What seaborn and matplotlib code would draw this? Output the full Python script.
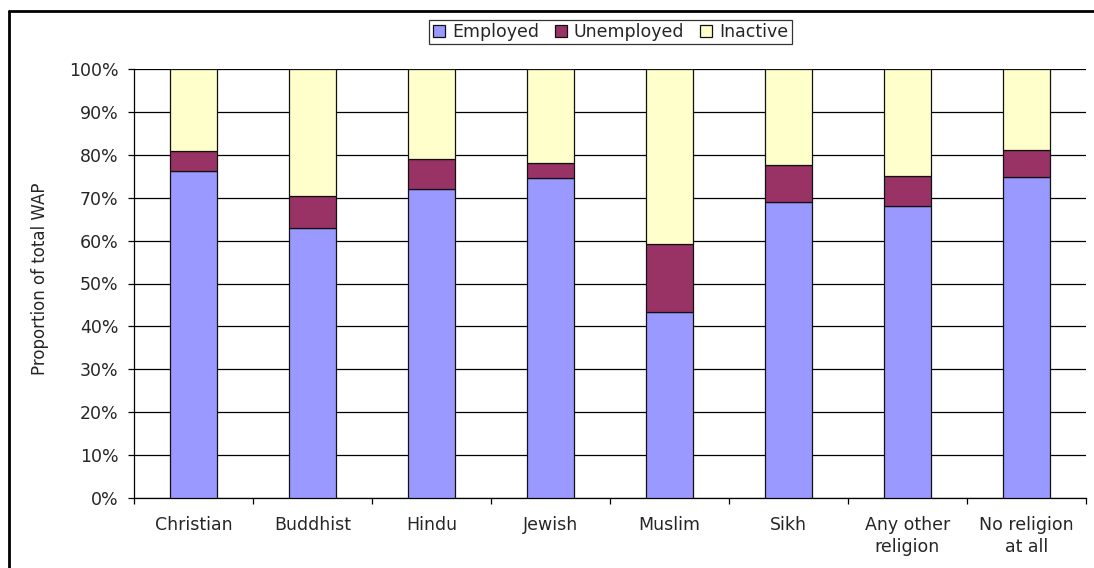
import numpy as np
import pandas as pd
import matplotlib
matplotlib.use("Agg")
import matplotlib.pyplot as plt
from matplotlib.lines import Line2D
from matplotlib.patches import Patch
from matplotlib.ticker import PercentFormatter, FixedLocator
import seaborn as sns

# Working-age population by religion: share in each economic status (%)
religions = ["Christian", "Buddhist", "Hindu", "Jewish", "Muslim", "Sikh",
             "Any other\nreligion", "No religion\nat all"]
employed = [76.3, 62.9, 72.0, 74.5, 43.3, 69.1, 68.1, 74.8]
unemployed = [4.5, 7.6, 7.1, 3.7, 15.8, 8.6, 7.0, 6.4]
inactive = [19.2, 29.5, 20.9, 21.8, 40.9, 22.3, 24.9, 18.8]

series_names = ["Employed", "Unemployed", "Inactive"]
series_colors = ["#9999FF", "#993366", "#FFFFCC"]

df = pd.DataFrame({"religion": religions, "Employed": employed,
                   "Unemployed": unemployed, "Inactive": inactive})

sns.set_style("white")
plt.rcParams["font.family"] = ["DejaVu Sans"]

W, H = 1094, 568
fig = plt.figure(figsize=(W / 100, H / 100), dpi=100)
ax = fig.add_axes([134 / W, 1 - 498 / H, (1086 - 134) / W, (498 - 69) / H])

ax.yaxis.grid(True, color="black", linewidth=0.9)
ax.set_axisbelow(True)

# Stacked bars: each series sits on the running total of the previous ones
base = np.zeros(len(religions))
for name, color in zip(series_names, series_colors):
    sns.barplot(data=df, x="religion", y=name, bottom=base, color=color,
                width=0.4, edgecolor="#111111", linewidth=0.9, saturation=1,
                ax=ax, zorder=3)
    base = base + df[name].to_numpy()

ax.set_ylim(0, 100)
ax.set_xlim(-0.5, len(religions) - 0.5)
ax.set_yticks(np.arange(0, 101, 10))
ax.yaxis.set_major_formatter(PercentFormatter(decimals=0))
ax.set_xlabel("")
ax.set_ylabel("Proportion of total WAP", fontsize=12)
ax.yaxis.set_label_coords(-0.089, 0.51)

for side in ["top", "right"]:
    ax.spines[side].set_visible(False)
for side in ["left", "bottom"]:
    ax.spines[side].set_color("black")
    ax.spines[side].set_linewidth(0.9)

ax.tick_params(axis="y", which="major", direction="out", length=4.3, width=0.9,
               color="black", labelsize=12.5, left=True, pad=7)
ax.tick_params(axis="x", which="major", length=0, labelsize=12.5, pad=13)
ax.xaxis.set_minor_locator(FixedLocator(np.arange(-0.5, len(religions), 1.0)))
ax.tick_params(axis="x", which="minor", direction="out", length=4.3, width=0.9,
               color="black", bottom=True)
for lbl in ax.get_xticklabels():
    lbl.set_linespacing(1.3)

handles = [Patch(facecolor=c, edgecolor="#111111", linewidth=0.9) for c in series_colors]
leg = fig.legend(handles, series_names, loc="center", ncol=3,
                 bbox_to_anchor=(610.5 / W, 1 - 32 / H), fontsize=12.5,
                 frameon=True, fancybox=False, handlelength=0.7, handleheight=0.7,
                 handletextpad=0.4, columnspacing=0.9, borderpad=0.2,
                 borderaxespad=0)
leg.get_frame().set_edgecolor("black")
leg.get_frame().set_linewidth(0.9)

# Outer chart frame (left and top edges)
fig.add_artist(Line2D([9 / W, 9 / W], [0, 1 - 11 / H],
                      transform=fig.transFigure, color="black", linewidth=2))
fig.add_artist(Line2D([9 / W, 1], [1 - 11 / H, 1 - 11 / H],
                      transform=fig.transFigure, color="black", linewidth=2))

fig.savefig("out.png", dpi=100)
